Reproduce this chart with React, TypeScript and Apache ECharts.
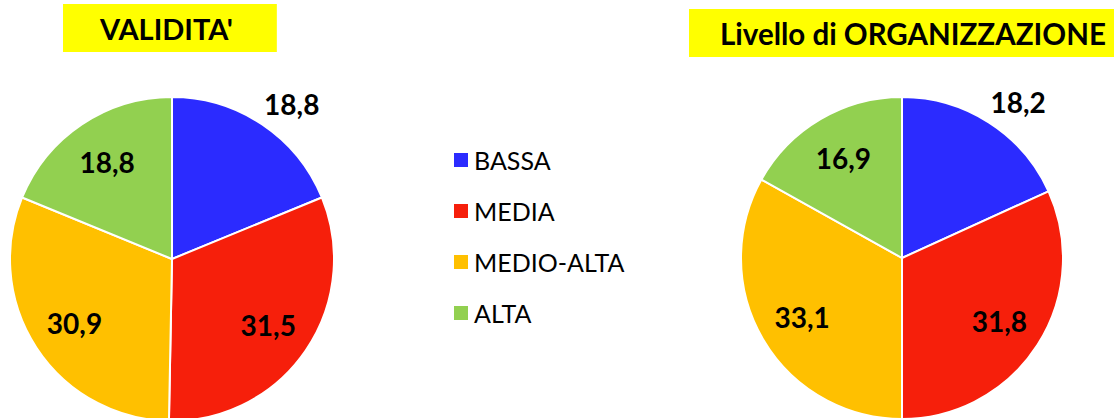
import React, { useEffect, useRef } from "react";
import * as echarts from "echarts";

const categories = ["BASSA", "MEDIA", "MEDIO-ALTA", "ALTA"];
const validitaValues = [18.8, 31.5, 30.9, 18.8];
const organizzazioneValues = [18.2, 31.8, 33.1, 16.9];
const sliceColors = ["#2B2BFF", "#F61F0B", "#FFC000", "#92D050"];
const titles = ["VALIDITA'", "Livello di ORGANIZZAZIONE"];

const FONT = "Lato, 'Open Sans', sans-serif";

function makeLayout(values: number[], cx: number, cy: number, r: number) {
  const total = values.reduce((a, b) => a + b, 0);
  return (params: any) => {
    const i = params.dataIndex;
    let before = 0;
    for (let k = 0; k < i; k++) before += values[k];
    const mid = (before + values[i] / 2) / total;
    const ang = mid * Math.PI * 2;
    const k = i === 0 ? 1.15 : 0.72;
    const extra = i === 0 ? 16 : 0;
    return {
      x: cx + k * r * Math.sin(ang) + extra,
      y: cy - k * r * Math.cos(ang),
      align: "center",
      verticalAlign: "middle",
    };
  };
}

function pieSeries(name: string, values: number[], cx: number, cy: number, r: number) {
  return {
    type: "pie",
    name,
    center: [cx, cy],
    radius: [0, r],
    startAngle: 90,
    clockwise: true,
    avoidLabelOverlap: false,
    itemStyle: { borderColor: "#ffffff", borderWidth: 2 },
    label: {
      show: true,
      position: "inside",
      color: "#000000",
      fontFamily: FONT,
      fontWeight: "bold",
      fontSize: 28,
      formatter: (p: any) => p.value.toFixed(1).replace(".", ","),
    },
    labelLine: { show: false },
    labelLayout: makeLayout(values, cx, cy, r),
    emphasis: { disabled: true },
    data: categories.map((c, i) => ({
      name: c,
      value: values[i],
      itemStyle: { color: sliceColors[i] },
    })),
  };
}

export default function App() {
  const ref = useRef<HTMLDivElement>(null);
  useEffect(() => {
    if (!ref.current) return;
    const chart = echarts.init(ref.current, null, { renderer: "svg" });
    chart.setOption({
      animation: false,
      backgroundColor: "#ffffff",
      title: [
        {
          text: titles[0],
          left: 63,
          top: 4,
          backgroundColor: "#FFFF00",
          padding: [9, 44, 9, 37],
          textStyle: { fontFamily: FONT, fontWeight: "bold", fontSize: 29, color: "#000", lineHeight: 30 },
        },
        {
          text: titles[1],
          left: 689,
          top: 9,
          backgroundColor: "#FFFF00",
          padding: [9, 14, 9, 31],
          textStyle: { fontFamily: FONT, fontWeight: "bold", fontSize: 29.5, color: "#000", lineHeight: 30 },
        },
      ],
      legend: {
        orient: "vertical",
        left: 447,
        top: 140,
        itemWidth: 16,
        itemHeight: 16,
        itemGap: 21,
        icon: "rect",
        selectedMode: false,
        data: categories,
        textStyle: { fontFamily: FONT, fontSize: 25, color: "#000", lineHeight: 30 },
      },
      series: [
        pieSeries(titles[0], validitaValues, 172, 259, 162),
        pieSeries(titles[1], organizzazioneValues, 902, 258, 161),
      ],
    });
    return () => chart.dispose();
  }, []);
  return (
    <div
      ref={ref}
      style={{ position: "fixed", left: 0, top: 0, width: 1114, height: 418 }}
    />
  );
}
